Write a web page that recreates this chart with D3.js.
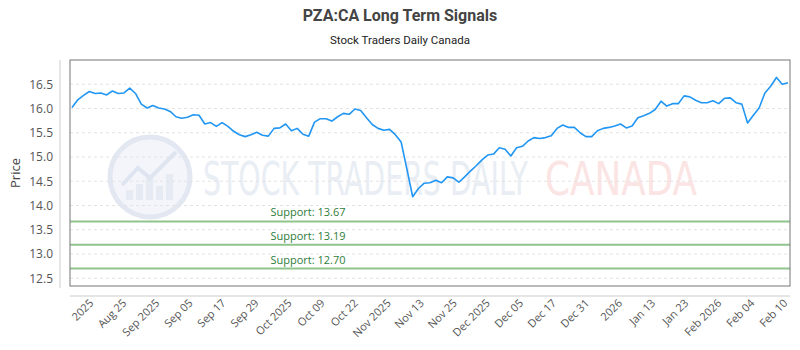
<!DOCTYPE html>
<html>
<head>
<meta charset="utf-8">
<script src="https://cdn.jsdelivr.net/npm/d3@7"></script>
<style>
    body { margin: 0; background: #ffffff; }
    svg { display: block; }
</style>
</head>
<body>
<svg id="signals_svg" width="800" height="350"></svg>
<script>
/**
 * Chart data.
 */
const prices = [
    16.02, 16.18, 16.27, 16.35, 16.31, 16.32, 16.28, 16.36, 16.31, 16.32, 16.42, 16.31, 16.09, 16.01, 16.06, 16.01,
    15.99, 15.94, 15.83, 15.80, 15.82, 15.87, 15.86, 15.68, 15.71, 15.63, 15.71, 15.63, 15.53, 15.46, 15.42, 15.46,
    15.51, 15.45, 15.43, 15.59, 15.60, 15.68, 15.54, 15.59, 15.47, 15.43, 15.72, 15.79, 15.79, 15.74, 15.83, 15.90,
    15.88, 15.99, 15.96, 15.81, 15.67, 15.59, 15.55, 15.57, 15.46, 15.31, 14.75, 14.18, 14.35, 14.46, 14.47,
    14.52, 14.47, 14.59, 14.57, 14.48, 14.59, 14.71, 14.82, 14.94, 15.04, 15.06, 15.19, 15.16, 15.02, 15.19, 15.22,
    15.33, 15.40, 15.38, 15.40, 15.44, 15.59, 15.66, 15.61, 15.61, 15.50, 15.42, 15.42, 15.54, 15.59, 15.61,
    15.64, 15.68, 15.60, 15.64, 15.81, 15.85, 15.90, 15.98, 16.15, 16.05, 16.10, 16.10, 16.26, 16.24, 16.17, 16.12,
    16.12, 16.16, 16.10, 16.21, 16.22, 16.12, 16.09, 15.70, 15.86, 16.01, 16.32, 16.46, 16.64, 16.50, 16.53
];

const xTickLabels = [
    '2025', 'Aug 25', 'Sep 2025', 'Sep 05', 'Sep 17', 'Sep 29', 'Oct 2025', 'Oct 09', 'Oct 22', 'Nov 2025', 'Nov 13',
    'Nov 25', 'Dec 2025', 'Dec 05', 'Dec 17', 'Dec 31', '2026', 'Jan 13', 'Jan 23', 'Feb 2026', 'Feb 04', 'Feb 10'
];

const yTicks = [12.5, 13.0, 13.5, 14.0, 14.5, 15.0, 15.5, 16.0, 16.5];

const supportLevels = [13.67, 13.19, 12.70];

const title = 'PZA:CA Long Term Signals';
const subtitle = 'Stock Traders Daily Canada';

/**
 * Margins of the plot box.
 */
const margin = {
    top: 60,
    bottom: 64,
    left: 70,
    right: 10,
};

let svg = d3.select('#signals_svg');
let width = +svg.attr('width');
let height = +svg.attr('height');

const plotRight = width - margin.right;
const plotBottom = height - margin.bottom;

/**
 * Scales
 */
const xScale = d3
    .scaleLinear()
    .domain([0, prices.length - 1])
    .range([margin.left + 2, plotRight - 2]);

const xTickScale = d3
    .scalePoint()
    .domain(xTickLabels)
    .range([margin.left + 21, plotRight - 5]);

const yScale = d3
    .scaleLinear()
    .domain([12.34, 17.0])
    .range([plotBottom, margin.top]);

/**
 * Title and subtitle
 */
svg.append('text')
    .attr('x', width / 2)
    .attr('y', 21)
    .attr('text-anchor', 'middle')
    .style('font-family', 'Roboto, sans-serif')
    .style('font-size', '16px')
    .style('font-weight', 'bold')
    .style('fill', '#444')
    .text(title);

svg.append('text')
    .attr('x', width / 2)
    .attr('y', 44)
    .attr('text-anchor', 'middle')
    .style('font-family', 'Roboto, sans-serif')
    .style('font-size', '11.5px')
    .style('fill', '#222')
    .text(subtitle);

/**
 * Watermark (logo circle + text)
 */
let g_watermark = svg.append('g').attr('class', 'watermark');

g_watermark.append('circle')
    .attr('cx', 150)
    .attr('cy', 177)
    .attr('r', 40)
    .attr('fill', '#f3f5fa')
    .attr('stroke', '#e2e7f1')
    .attr('stroke-width', 5);

g_watermark.selectAll('.wm_bar')
    .data([10, 16, 22, 14, 26])
    .enter()
    .append('rect')
    .attr('class', 'wm_bar')
    .attr('x', (d, i) => 126 + i * 10)
    .attr('y', (d) => 200 - d)
    .attr('width', 7)
    .attr('height', (d) => d)
    .attr('fill', '#e6eaf3');

g_watermark.append('path')
    .attr('d', 'M122,185 L138,168 L150,178 L176,152')
    .attr('fill', 'none')
    .attr('stroke', '#dfe5f0')
    .attr('stroke-width', 4);

/**
 * Watermark words, squeezed horizontally to fit their spans.
 */
const watermarkWords = [
    { text: 'STOCK TRADERS DAILY', x: 203, w: 325, color: '#e9edf4' },
    { text: 'CANADA', x: 545, w: 152, color: '#fbe4e4' },
];

watermarkWords.forEach((d) => {
    let t = g_watermark.append('text')
        .attr('x', 0)
        .attr('y', 0)
        .style('font-family', '"Liberation Sans Narrow", "DejaVu Sans Condensed", sans-serif')
        .style('font-size', '46px')
        .style('fill', d.color)
        .text(d.text);
    let natural = t.node().getComputedTextLength();
    t.attr('transform', 'translate(' + d.x + ',195) scale(' + (d.w / natural) + ',1)');
});

/**
 * Grid lines
 */
svg.append('g')
    .selectAll('.grid_line')
    .data(yTicks)
    .enter()
    .append('line')
    .attr('class', 'grid_line')
    .attr('x1', margin.left)
    .attr('x2', plotRight)
    .attr('y1', (d) => yScale(d))
    .attr('y2', (d) => yScale(d))
    .attr('stroke', '#e3e3e3')
    .attr('stroke-dasharray', '3,3');

/**
 * Support lines and labels
 */
let g_support = svg.append('g');

g_support.selectAll('.support_line')
    .data(supportLevels)
    .enter()
    .append('line')
    .attr('class', 'support_line')
    .attr('x1', margin.left)
    .attr('x2', plotRight)
    .attr('y1', (d) => yScale(d))
    .attr('y2', (d) => yScale(d))
    .attr('stroke', '#8fc48c')
    .attr('stroke-width', 2);

g_support.selectAll('.support_label')
    .data(supportLevels)
    .enter()
    .append('text')
    .attr('class', 'support_label')
    .attr('x', 308)
    .attr('y', (d) => yScale(d) - 5)
    .attr('text-anchor', 'middle')
    .style('font-family', '"Open Sans", sans-serif')
    .style('font-size', '11px')
    .style('fill', '#2f7d3a')
    .text((d) => 'Support: ' + d.toFixed(2));

/**
 * Price line
 */
const line = d3
    .line()
    .x((d, i) => xScale(i))
    .y((d) => yScale(d));

svg.append('path')
    .datum(prices)
    .attr('d', line)
    .attr('fill', 'none')
    .attr('stroke', '#2196f3')
    .attr('stroke-width', 1.6)
    .attr('stroke-linejoin', 'round');

/**
 * Plot box border
 */
svg.append('rect')
    .attr('x', margin.left)
    .attr('y', margin.top)
    .attr('width', plotRight - margin.left)
    .attr('height', plotBottom - margin.top)
    .attr('fill', 'none')
    .attr('stroke', '#777')
    .attr('stroke-width', 1);

/**
 * Y axis (offset to the left of the box)
 */
let y_axis = d3.axisLeft(yScale)
    .tickValues(yTicks)
    .tickFormat(d3.format('.1f'))
    .tickSize(0)
    .tickPadding(7);

let g_y_axis = svg.append('g')
    .attr('transform', 'translate(' + (margin.left - 10) + ',0)')
    .call(y_axis);

g_y_axis.select('.domain').remove();
g_y_axis.selectAll('text')
    .style('font-family', '"Open Sans", sans-serif')
    .style('font-size', '12px')
    .style('fill', '#555');

svg.append('line')
    .attr('x1', margin.left - 10)
    .attr('x2', margin.left - 10)
    .attr('y1', margin.top)
    .attr('y2', plotBottom + 2)
    .attr('stroke', '#ccc');

svg.append('text')
    .attr('transform', 'translate(20,' + ((margin.top + plotBottom) / 2) + ') rotate(-90)')
    .attr('text-anchor', 'middle')
    .style('font-family', '"Open Sans", sans-serif')
    .style('font-size', '13px')
    .style('fill', '#444')
    .text('Price');

/**
 * X axis (offset below the box)
 */
svg.append('line')
    .attr('x1', margin.left)
    .attr('x2', plotRight)
    .attr('y1', plotBottom + 10)
    .attr('y2', plotBottom + 10)
    .attr('stroke', '#ccc');

let x_axis = d3.axisBottom(xTickScale).tickSize(0).tickPadding(0);

let g_x_axis = svg.append('g')
    .attr('transform', 'translate(0,' + (plotBottom + 15) + ')')
    .call(x_axis);

g_x_axis.select('.domain').remove();
g_x_axis.selectAll('text')
    .attr('y', 0)
    .attr('dy', '0.35em')
    .attr('text-anchor', 'end')
    .attr('transform', 'rotate(-45)')
    .style('font-family', '"Open Sans", sans-serif')
    .style('font-size', '11px')
    .style('fill', '#555');
</script>
</body>
</html>
